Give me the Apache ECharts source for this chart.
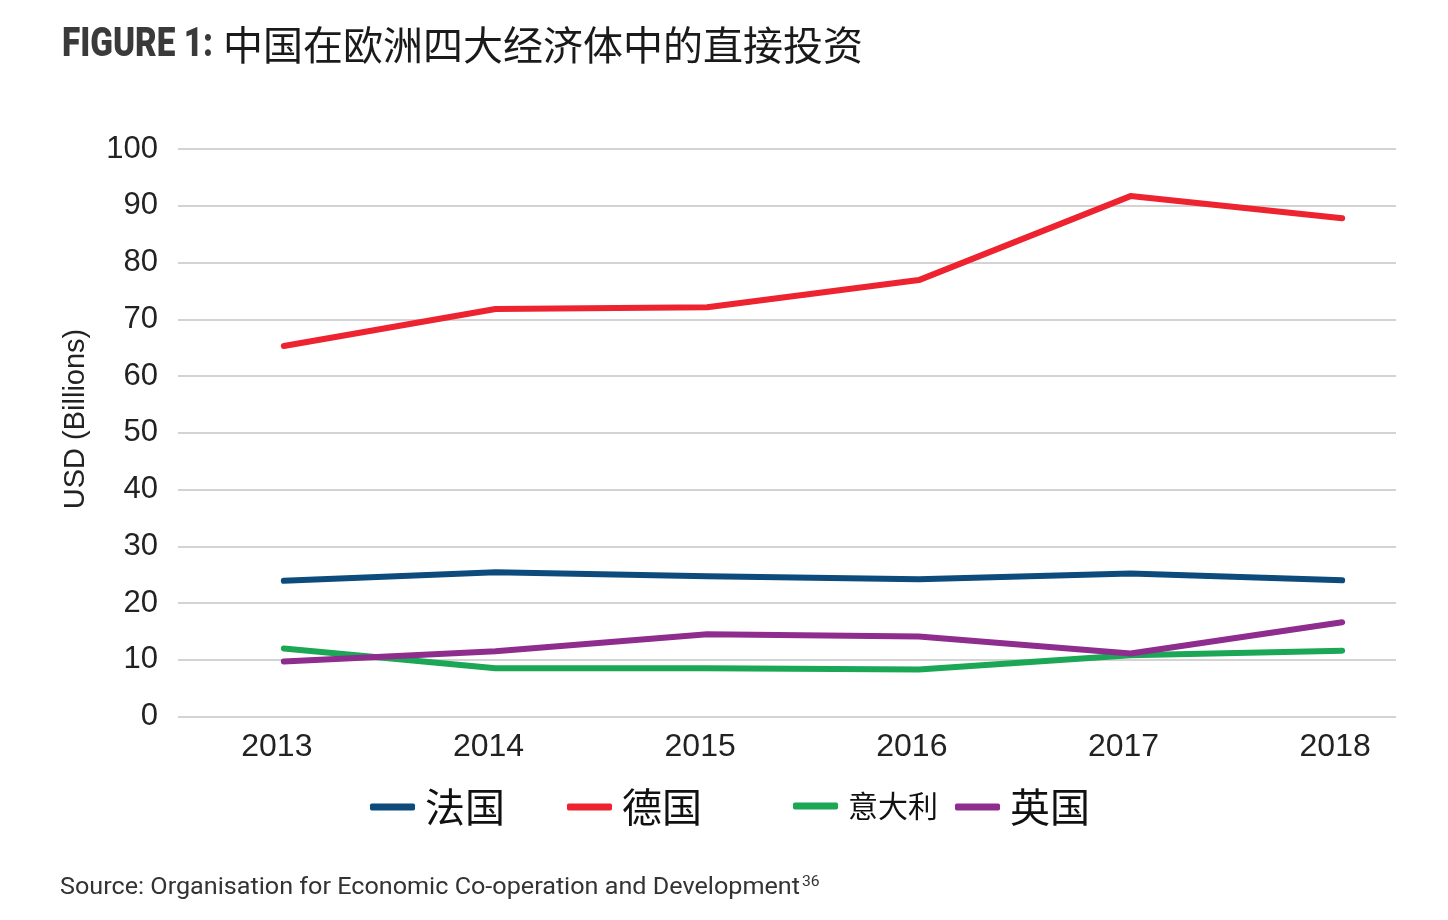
<!DOCTYPE html>
<html><head><meta charset="utf-8">
<script src="https://cdn.jsdelivr.net/npm/echarts@6/dist/echarts.min.js"></script>
<style>html,body{margin:0;padding:0;background:#fff}#c{width:1448px;height:920px}</style>
</head><body><div id="c"></div>
<script>
const categories = ['2013','2014','2015','2016','2017','2018'];
const seriesNames = ['法国','德国','意大利','英国'];
const france  = [23.9, 25.4, 24.7, 24.2, 25.2, 24.0];
const germany = [65.3, 71.8, 72.1, 76.9, 91.7, 87.8];
const italy   = [12.0, 8.5, 8.5, 8.3, 10.8, 11.6];
const uk      = [9.7, 11.5, 14.5, 14.1, 11.1, 16.6];
const yMin = 0, yMax = 100, yStep = 10;
const colors = ['#0c4b7b','#ee2330','#1ba756','#8f2d8f'];
const values = [france, germany, italy, uk];

function fitScale(text, font, target) {
  const ctx = document.createElement('canvas').getContext('2d');
  ctx.font = font;
  return target / ctx.measureText(text).width;
}
const figText = 'FIGURE 1:';
const figScale = fitScale(figText, '900 40px Roboto', 151);
const srcText = 'Source: Organisation for Economic Co-operation and Development';
const srcScale = fitScale(srcText, '24px Roboto', 740);
const supScale = srcScale;

const chart = echarts.init(document.getElementById('c'), null, {renderer:'canvas'});
const legendPos = [
  {left: 370, size: 40, top: 787},
  {left: 567, size: 40, top: 787},
  {left: 793, size: 30, top: 791},
  {left: 955, size: 40, top: 787}
];
const option = {
  animation: false,
  backgroundColor: '#fff',
  legend: seriesNames.map((n, i) => ({
    data: [n],
    left: legendPos[i].left,
    top: legendPos[i].top,
    padding: 0,
    icon: 'roundRect',
    itemWidth: 45,
    itemHeight: 7,
    selectedMode: false,
    textStyle: {fontFamily: 'Noto Sans CJK SC', fontSize: legendPos[i].size, color: '#111', padding: [0,0,0,5]}
  })),
  grid: [
    {left: 178, right: 0, top: 149, bottom: 203.5, containLabel: false},
    {left: 178, right: 52, top: 149, bottom: 203.5, containLabel: false}
  ],
  xAxis: [
    {type: 'category', gridIndex: 0, data: categories, boundaryGap: true,
     axisLine: {show: false}, axisTick: {show: false},
     axisLabel: {fontFamily: 'Liberation Sans', fontSize: 32, color: '#222', margin: 15, padding: [0,14,0,0]}},
    {type: 'category', gridIndex: 1, data: categories, show: false}
  ],
  yAxis: [
    {type: 'value', gridIndex: 0, min: yMin, max: yMax, interval: yStep, show: false, splitLine: {show: false}},
    {type: 'value', gridIndex: 1, min: yMin, max: yMax, interval: yStep,
     axisLine: {show: false}, axisTick: {show: false},
     axisLabel: {fontFamily: 'Liberation Sans', fontSize: 31, color: '#222', margin: 20, padding: [3,0,0,0]},
     splitLine: {lineStyle: {color: '#c4c4c4', width: 1.5}}}
  ],
  graphic: [
    {type: 'text', x: 62, y: 46, scaleX: figScale,
     style: {text: figText, fontFamily: 'Roboto', fontWeight: 900, fontSize: 40, fill: '#3a3a3a', align: 'left', verticalAlign: 'middle'}},
    {type: 'text', x: 223, y: 45,
     style: {text: '中国在欧洲四大经济体中的直接投资', fontFamily: 'Noto Sans CJK SC', fontWeight: 'normal', fontSize: 40, fill: '#1a1a1a', align: 'left', verticalAlign: 'middle'}},
    {type: 'text', x: 76, y: 419, rotation: Math.PI/2,
     style: {text: 'USD (Billions)', fontFamily: 'Liberation Sans', fontSize: 29, fill: '#222', align: 'center', verticalAlign: 'middle'}},
    {type: 'text', x: 60, y: 888, scaleX: srcScale,
     style: {text: srcText, fontFamily: 'Roboto', fontSize: 24, fill: '#333', align: 'left', verticalAlign: 'middle'}},
    {type: 'text', x: 802, y: 882, scaleX: supScale,
     style: {text: '36', fontFamily: 'Roboto', fontSize: 15, fill: '#333', align: 'left', verticalAlign: 'middle'}}
  ],
  series: seriesNames.map((n, i) => ({
    name: n, type: 'line', xAxisIndex: 0, yAxisIndex: 0,
    data: values[i], showSymbol: false, symbol: 'none',
    color: colors[i],
    lineStyle: {width: 6, color: colors[i], cap: 'round', join: 'round'},
    itemStyle: {color: colors[i]},
    z: 3 + i
  }))
};
chart.setOption(option);
</script></body></html>
